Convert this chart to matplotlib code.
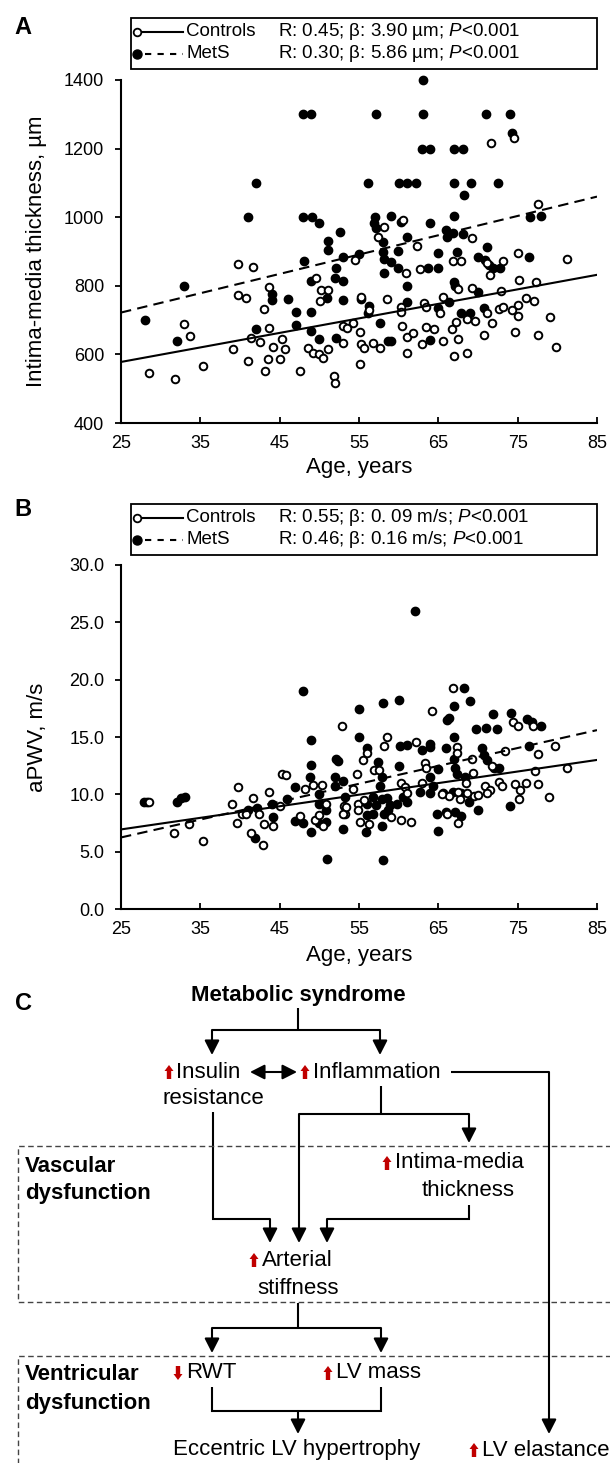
import numpy as np
import matplotlib
matplotlib.use("Agg")
import matplotlib.pyplot as plt
from matplotlib.patches import Polygon, Rectangle

plt.rcParams['font.family'] = ['Liberation Sans', 'DejaVu Sans']
plt.rcParams['mathtext.fontset'] = 'custom'
plt.rcParams['mathtext.rm'] = 'Liberation Sans'
plt.rcParams['mathtext.it'] = 'Liberation Sans:italic'

# ---- panel A: intima-media thickness vs age ----
a_ctrl_age = [28.5, 31.8, 32.9, 33.7, 35.3, 39.1, 39.7, 39.7, 40.7, 41.7, 41.4, 42.5, 43.6, 43.0, 43.6,
              43.5, 43.2, 44.1, 45.3, 45.7, 45.0, 41.0, 47.6, 49.6, 50.2, 51.1, 50.1, 48.6, 49.2, 50.0,
              50.5, 51.1, 51.8, 53.0, 53.0,
              74.5, 71.7, 77.6, 58.1, 60.5, 69.3, 57.4, 62.3, 54.5, 71.1, 73.1, 75.0, 81.2, 66.9, 67.8,
              62.7, 60.9, 71.5, 75.2, 77.3, 67.5, 69.3, 72.9, 76.1, 77.0, 75.0, 55.3, 56.3, 58.5, 60.3,
              60.3, 63.2, 63.5, 65.6, 65.2, 68.6, 69.6, 71.1, 72.6, 73.2, 74.3, 75.0, 70.8, 71.8, 74.7,
              77.5, 79.1, 79.8, 54.3, 53.5, 55.1, 55.3, 55.6, 56.8, 57.6, 60.4, 61.1, 61.8, 63.5, 64.4,
              61.0, 63.0, 65.6, 66.7, 67.2, 67.5, 67.0, 68.6, 55.1, 52.0]
a_ctrl_imt = [545, 528, 690, 655, 566, 617, 865, 772, 764, 856, 649, 636, 797, 731, 678,
              586, 551, 623, 644, 617, 588, 581, 551, 824, 787, 787, 756, 620, 604, 601,
              589, 617, 537, 634, 683,
              1230, 1215, 1038, 970, 992, 938, 943, 916, 875, 866, 873, 897, 877, 873, 873,
              848, 836, 832, 817, 812, 790, 795, 786, 765, 757, 744, 766, 730, 761, 737,
              725, 751, 737, 766, 720, 702, 697, 720, 732, 737, 728, 712, 657, 691, 666,
              657, 710, 621, 691, 676, 666, 630, 618, 632, 618, 684, 652, 662, 681, 673,
              605, 630, 640, 673, 695, 645, 595, 603, 572, 516]

a_mets_age = [28, 32, 33, 41, 42, 42, 44, 44, 46, 47.1, 47.1, 48, 49, 48, 49.1, 50, 51.1, 51.1, 48.1,
              52.6, 48.9, 52.1, 52, 53, 53, 51, 53, 49, 48.9, 50, 52.1,
              63.1, 57.1, 63.1, 71, 74, 74.3, 62.9, 63.9, 67, 68.1, 56.1, 60, 61.1, 62.2, 67, 69.1,
              72.5, 68.2, 76.5, 78, 57, 59, 56.9, 57.2, 60.3, 67, 63.9, 66, 66.9, 68.1, 66.1, 58,
              61.1, 55, 58, 58.1, 59, 59.9, 71.1, 70, 70.9, 71.4, 71.9, 72.8, 76.4, 65, 67.3, 63.7,
              64.9, 58.1, 59.9, 61, 67, 67.1, 70, 55.2, 56.2, 56.1, 61, 64.9, 66.3, 67.9, 69, 70.8,
              57.6, 58.7, 59, 63.9]
a_mets_imt = [700, 640, 800, 1000, 1100, 675, 775, 760, 762, 725, 685, 1300, 1300, 1000, 1000, 984,
              932, 903, 873, 958, 814, 853, 824, 884, 814, 763, 759, 723, 668, 644, 649,
              1400, 1300, 1300, 1300, 1300, 1246, 1200, 1200, 1200, 1200, 1100, 1100, 1100, 1100,
              1100, 1100, 1100, 1065, 1000, 1004, 1000, 1004, 982, 968, 987, 1003, 982, 963, 953,
              951, 943, 929, 941, 893, 900, 877, 870, 901, 914, 883, 875, 861, 851, 851, 883, 895,
              900, 851, 851, 836, 851, 800, 812, 800, 783, 761, 741, 720, 754, 734, 754, 722, 722,
              734, 691, 640, 640, 642]

# regression lines read at age 25 and 85
fit_age = [25, 85]
a_ctrl_fit = [578, 832]
a_mets_fit = [722, 1060]

# ---- panel B: aPWV vs age ----
b_ctrl_age = [28.5, 31.7, 33.6, 35.3, 39.0, 39.7, 39.6, 40.2, 40.8, 41.6, 42.4, 41.4, 42.9, 43.6, 43.0,
              44.1, 45.0, 45.3, 45.8, 47.6, 48.2, 49.2, 49.5, 50.0, 50.4, 50.3, 50.9, 52.8, 53.1, 53.2,
              64.2, 66.9, 74.4, 75.0, 76.9, 58.5, 58.1, 62.2, 67.3, 67.4, 73.4, 77.5, 79.7, 69.2, 71.8,
              63.3, 63.5, 69.4, 68.5, 77.2, 81.2, 55.5, 56.0, 56.9, 57.5, 60.3, 60.8, 63.0, 72.6, 73.0,
              74.7, 76.1, 77.5, 70.9, 71.5, 75.3, 75.2, 79.0, 69.5, 71.1, 66.3, 67.7, 68.6, 67.5, 65.4,
              66.1, 67.5, 60.3, 61.6, 61.0, 54.9, 55.6, 53.4, 53.0, 54.9, 54.3, 55.1, 56.3, 59.0, 70.0,
              54.8]
b_ctrl_pwv = [9.3, 6.6, 7.4, 5.9, 9.2, 10.6, 7.5, 8.3, 8.3, 9.7, 8.3, 6.6, 5.6, 10.2, 7.4,
              7.2, 9.0, 11.8, 11.7, 8.1, 10.5, 10.8, 7.75, 8.2, 7.2, 10.8, 9.2, 15.95, 9.0, 8.3,
              17.3, 19.3, 16.3, 16.0, 16.0, 15.0, 14.2, 14.6, 14.1, 13.6, 13.8, 13.5, 14.2, 13.1, 12.5,
              12.75, 12.3, 11.9, 10.95, 12.0, 12.3, 13.0, 13.6, 12.1, 12.1, 11.0, 10.6, 11.0, 11.1, 10.7,
              10.9, 11.0, 10.9, 10.7, 10.4, 10.4, 9.55, 9.8, 9.85, 10.1, 9.85, 9.55, 10.1, 10.2, 10.0,
              8.3, 7.5, 7.75, 7.6, 10.1, 9.2, 9.5, 8.9, 8.3, 8.6, 10.5, 7.6, 7.4, 8.0, 9.9,
              11.8]

b_mets_age = [27.9, 28.3, 32.0, 32.6, 33.1, 41.0, 42.1, 41.9, 44.0, 44.1, 45.9, 46.9, 46.9, 47.9, 48.0,
              48.9, 48.9, 48.8, 48.9, 50.0, 49.9, 50.0, 50.9, 50.9, 51.0, 52.1, 52.4, 52.0, 53.0, 53.0,
              52.0, 53.2,
              55.0, 58.0, 60.0, 68.2, 67.0, 69.0, 66.1, 66.3, 71.9, 74.2, 76.2, 76.8, 78.0, 69.8, 71.0,
              72.4, 55.0, 60.2, 61.0, 62.9, 64.0, 64.0, 66.0, 67.0, 70.5, 70.8, 71.1, 72.0, 72.7, 76.4,
              67.0, 67.1, 67.3, 68.4, 65.0, 56.0, 57.4, 57.9, 57.7, 60.0, 64.0, 64.3, 74.0, 68.9, 70.0,
              65.6, 66.9, 67.8, 62.7, 64.0, 64.8, 66.0, 67.1, 67.9, 64.9, 56.8, 57.9, 58.5, 60.6, 61.0,
              56.0, 57.2, 58.9, 59.8, 56.0, 56.8, 58.1, 58.7, 55.9, 57.9, 58.0, 62.0]
b_mets_pwv = [9.3, 9.3, 9.35, 9.7, 9.8, 8.6, 8.8, 6.2, 9.2, 8.0, 9.55, 10.6, 7.7, 7.5, 19.0,
              14.7, 12.6, 11.5, 6.7, 7.5, 9.2, 10.0, 8.6, 7.6, 4.35, 13.1, 12.9, 11.5, 11.2, 7.0,
              10.7, 9.8,
              17.4, 18.0, 18.2, 19.3, 17.7, 18.1, 16.5, 16.7, 17.0, 17.1, 16.6, 16.3, 16.0, 15.7, 15.8,
              15.7, 14.96, 14.2, 14.3, 13.9, 14.15, 14.4, 14.0, 14.96, 14.0, 13.4, 13.0, 12.3, 12.3, 14.2,
              13.1, 12.3, 11.8, 11.5, 12.2, 14.0, 12.8, 11.5, 10.7, 12.5, 11.5, 10.7, 9.0, 9.3, 8.6,
              10.1, 10.2, 10.1, 10.2, 10.1, 8.3, 8.5, 8.5, 8.1, 6.8, 9.8, 9.6, 9.7, 9.8, 9.35,
              9.2, 9.1, 9.1, 9.2, 8.2, 8.3, 8.3, 8.6, 6.7, 7.2, 4.3, 26.0]

b_ctrl_fit = [6.94, 13.0]
b_mets_fit = [6.24, 15.6]

W, H = 610, 1463
fig = plt.figure(figsize=(W / 100, H / 100), dpi=100)


def px_axes(x0, y0, x1, y1):
    return fig.add_axes([x0 / W, 1 - y1 / H, (x1 - x0) / W, (y1 - y0) / H])


def style_axes(ax):
    for s in ['top', 'right']:
        ax.spines[s].set_visible(False)
    for s in ['left', 'bottom']:
        ax.spines[s].set_linewidth(1.5)
    ax.tick_params(axis='y', direction='out', length=4, width=1.3, pad=8, labelsize=13)
    ax.tick_params(axis='x', direction='in', length=4, width=1.3, pad=9, labelsize=13)
    ax.set_xlim(25, 85)
    ax.set_xticks(np.arange(25, 86, 10))


def scatter_pair(ax, ca, cv, ma, mv, cfit, mfit):
    ax.scatter(ma, mv, s=36, facecolor='black', edgecolor='black', linewidth=1.0, zorder=3, clip_on=False)
    ax.scatter(ca, cv, s=30, facecolor='white', edgecolor='black', linewidth=1.4, zorder=4, clip_on=False)
    ax.plot(fit_age, cfit, color='black', lw=1.5, zorder=5)
    ax.plot(fit_age, mfit, color='black', lw=1.5, ls=(0, (5, 3)), zorder=5)


axA = px_axes(121, 80, 597, 423)
style_axes(axA)
scatter_pair(axA, a_ctrl_age, a_ctrl_imt, a_mets_age, a_mets_imt, a_ctrl_fit, a_mets_fit)
axA.set_ylim(400, 1400)
axA.set_yticks(np.arange(400, 1401, 200))

axB = px_axes(121, 565, 597, 909)
style_axes(axB)
scatter_pair(axB, b_ctrl_age, b_ctrl_pwv, b_mets_age, b_mets_pwv, b_ctrl_fit, b_mets_fit)
axB.set_ylim(0, 30)
axB.set_yticks(np.arange(0, 31, 5))
axB.set_yticklabels(['%.1f' % v for v in np.arange(0, 31, 5)])

# overlay in pixel coordinates for labels, legends and the diagram
ov = fig.add_axes([0, 0, 1, 1])
ov.set_xlim(0, W)
ov.set_ylim(H, 0)
ov.axis('off')

TXT = 16
ov.text(37, 251, 'Intima-media thickness, µm', rotation=90, ha='center', va='center', fontsize=TXT)
ov.text(359, 468, 'Age, years', ha='center', va='center', fontsize=TXT)
ov.text(37, 737, 'aPWV, m/s', rotation=90, ha='center', va='center', fontsize=TXT)
ov.text(359, 955, 'Age, years', ha='center', va='center', fontsize=TXT)

for letter, y in [('A', 27), ('B', 510), ('C', 1003)]:
    ov.text(23, y, letter, ha='center', va='center', fontsize=17, fontweight='bold')


def legend_box(top, stats_c, stats_m):
    ov.add_patch(Rectangle((131, top), 466, 51, fill=False, lw=1.3, ec='black'))
    r1, r2 = top + 14, top + 36
    ov.plot([137], [r1], 'o', ms=5.5, mfc='white', mec='black', mew=1.3)
    ov.plot([143, 183], [r1, r1], color='black', lw=1.5)
    ov.plot([137], [r2], 'o', ms=6.5, mfc='black', mec='black')
    ov.plot([145, 183], [r2, r2], color='black', lw=1.5, ls=(0, (3, 3)))
    ov.text(186, r1, 'Controls', va='center', fontsize=13.5)
    ov.text(186, r2, 'MetS', va='center', fontsize=13.5)
    ov.text(278, r1, stats_c, va='center', fontsize=13.5)
    ov.text(278, r2, stats_m, va='center', fontsize=13.5)


legend_box(18, 'R: 0.45; β: 3.90 µm; $P$<0.001', 'R: 0.30; β: 5.86 µm; $P$<0.001')
legend_box(504, 'R: 0.55; β: 0. 09 m/s; $P$<0.001', 'R: 0.46; β: 0.16 m/s; $P$<0.001')

# ---- panel C: pathway diagram ----
RED = '#c00000'


def path(xs, ys):
    ov.plot(xs, ys, color='black', lw=1.5, solid_capstyle='butt', solid_joinstyle='miter')


def arrow(x0, y0, x1, y1, style='-|>'):
    ov.annotate('', xy=(x1, y1), xytext=(x0, y0),
                arrowprops=dict(arrowstyle=style + ',head_length=0.55,head_width=0.28',
                                lw=1.5, color='black', shrinkA=0, shrinkB=0, mutation_scale=16))


def red_arrow(x, y, up=True):
    h, hw, sw, hl = 14, 4.5, 2.2, 6
    d = -1 if up else 1
    tip = y + d * h / 2
    base = y - d * h / 2
    neck = tip - d * hl
    pts = [(x - sw, base), (x + sw, base), (x + sw, neck), (x + hw, neck), (x, tip),
           (x - hw, neck), (x - sw, neck)]
    ov.add_patch(Polygon(pts, closed=True, color=RED, lw=0))


def label(x, y, s, ha='left', bold=False):
    ov.text(x, y, s, ha=ha, va='center', fontsize=TXT, fontweight='bold' if bold else 'normal')


label(298, 995, 'Metabolic syndrome', ha='center', bold=True)
path([298, 298], [1008, 1030])
path([212, 380], [1030, 1030])
arrow(212, 1030, 212, 1055)
arrow(380, 1030, 380, 1055)

red_arrow(169, 1072)
label(176, 1072, 'Insulin')
label(213, 1098, 'resistance', ha='center')
arrow(250, 1072, 297, 1072, style='<|-|>')
red_arrow(305, 1072)
label(313, 1072, 'Inflammation')

path([451, 549], [1072, 1072])
arrow(549, 1072, 549, 1434)

path([381, 381], [1086, 1114])
path([299, 469], [1114, 1114])
arrow(469, 1114, 469, 1143)
arrow(299, 1114, 299, 1243)

path([213, 213, 270], [1112, 1219, 1219])
arrow(270, 1219, 270, 1243)

red_arrow(387, 1163)
label(395, 1163, 'Intima-media')
label(468, 1190, 'thickness', ha='center')
path([469, 469, 327], [1205, 1219, 1219])
arrow(327, 1219, 327, 1243)

ov.plot([612, 18, 18, 612], [1146, 1146, 1302, 1302], color='#444444', lw=1.0, ls=(0, (4, 2.5)))
label(25, 1167, 'Vascular', bold=True)
label(25, 1193, 'dysfunction', bold=True)

red_arrow(254, 1260)
label(262, 1260, 'Arterial')
label(298, 1288, 'stiffness', ha='center')

path([298, 298], [1303, 1328])
path([212, 381], [1328, 1328])
arrow(212, 1328, 212, 1353)
arrow(381, 1328, 381, 1353)

ov.plot([612, 18, 18], [1356, 1356, 1470], color='#444444', lw=1.0, ls=(0, (4, 2.5)))
label(25, 1375, 'Ventricular', bold=True)
label(25, 1403, 'dysfunction', bold=True)

red_arrow(178, 1373, up=False)
label(186, 1373, 'RWT')
red_arrow(328, 1373)
label(336, 1373, 'LV mass')
path([212, 212, 381, 381], [1387, 1411, 1411, 1387])
arrow(298, 1411, 298, 1434)

label(297, 1450, 'Eccentric LV hypertrophy', ha='center')
red_arrow(474, 1450)
label(482, 1450, 'LV elastance')

fig.savefig('out.png', dpi=100)
